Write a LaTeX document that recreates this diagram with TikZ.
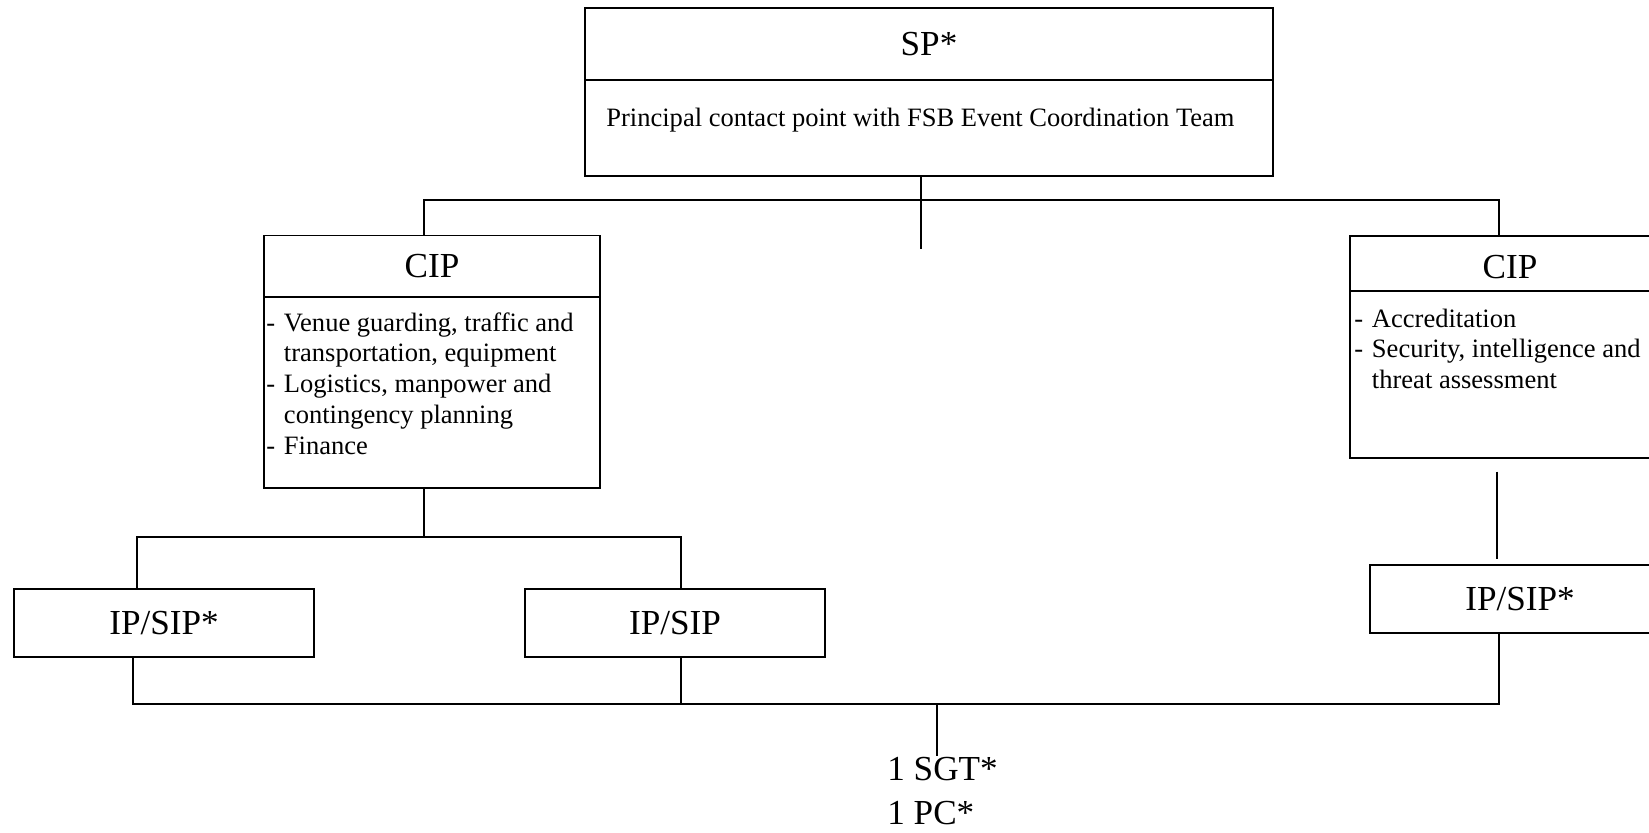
\documentclass[tikz,border=0pt]{standalone}
\usepackage{fontspec}
\setmainfont{Liberation Serif}
\begin{document}
\begin{tikzpicture}[x=0.02cm,y=-0.02cm,
	box/.style={draw,line width=1.1pt,inner sep=0pt},
	big/.style={font=\fontsize{20}{24}\selectfont},
	small/.style={font=\fontsize{15.1}{17.6}\selectfont},
	link/.style={line width=1.1pt}]
	\useasboundingbox (0,0) rectangle (1649,832);
	\clip (0,0) rectangle (1649,832);
	% top box
	\node[box,big,minimum width=13.76cm,minimum height=1.44cm] (sphead) at (929,44) {SP*};
	\node[box,minimum width=13.76cm,minimum height=1.92cm] (spbody) at (929,128) {};
	\node[small,inner sep=0pt,anchor=base west] (sptext) at (606,126) {Principal contact point with FSB Event Coordination Team};
	% left CIP
	\node[box,big,minimum width=6.72cm,minimum height=1.22cm] (ciplhead) at (432,266) {CIP};
	\node[box,minimum width=6.72cm,minimum height=3.83cm] (ciplbody) at (432,392.3) {};
	\node[small,inner sep=0pt,anchor=north west] (cipltext) at (266,309) {%
		\begin{tabular}{@{}l@{\hspace{5pt}}l@{}}
		- & Venue guarding, traffic and\\
		  & transportation, equipment\\
		- & Logistics, manpower and\\
		  & contingency planning\\
		- & Finance
		\end{tabular}};
	% right CIP
	\node[box,minimum width=6.4cm,minimum height=1.11cm] (ciprhead) at (1510,263.3) {};
	\node[big] (ciprlabel) at (1510,267) {CIP};
	\node[box,minimum width=6.4cm,minimum height=3.35cm] (ciprbody) at (1510,374.5) {};
	\node[small,inner sep=0pt,anchor=north west] (ciprtext) at (1354,305) {%
		\begin{tabular}{@{}l@{\hspace{5pt}}l@{}}
		- & Accreditation\\
		- & Security, intelligence and\\
		  & threat assessment
		\end{tabular}};
	% IP/SIP boxes
	\node[box,big,minimum width=6cm,minimum height=1.36cm] (ipa) at (164,623) {IP/SIP*};
	\node[box,big,minimum width=6cm,minimum height=1.36cm] (ipb) at (675,623) {IP/SIP};
	\node[box,big,minimum width=6cm,minimum height=1.36cm] (ipc) at (1520,599) {IP/SIP*};
	% bottom labels
	\node[big,inner sep=0pt,anchor=base west] (sgt) at (887,780) {1 SGT*};
	\node[big,inner sep=0pt,anchor=base west] (pc) at (887,824) {1 PC*};
	% junctions
	\coordinate (stemend) at (921,249);
	\coordinate (barL) at (424,200);
	\coordinate (barR) at (1499,200);
	\coordinate (midL) at (424,537);
	\coordinate (dropA) at (137,537);
	\coordinate (dropB) at (681,537);
	\coordinate (baseA) at (133,704);
	\coordinate (baseB) at (681,704);
	\coordinate (baseC) at (1499,704);
	\coordinate (basemid) at (937,704);
	% connectors
	\draw[link] (spbody.south -| stemend) -- (stemend);
	\draw[link] (barL |- ciplhead.north) -- (barL) -- (barR) -- (barR |- ciprhead.north);
	\draw[link] (midL |- ciplbody.south) -- (midL);
	\draw[link] (dropA |- ipa.north) -- (dropA) -- (dropB) -- (dropB |- ipb.north);
	\draw[link,shorten <=7pt,shorten >=3pt] (1497,0 |- ciprbody.south) -- (1497,0 |- ipc.north);
	\draw[link] (baseA |- ipa.south) -- (baseA) -- (baseC) -- (baseC |- ipc.south);
	\draw[link] (baseB |- ipb.south) -- (baseB);
	\draw[link] (basemid) -- (basemid |- sgt.north);
\end{tikzpicture}
\end{document}
